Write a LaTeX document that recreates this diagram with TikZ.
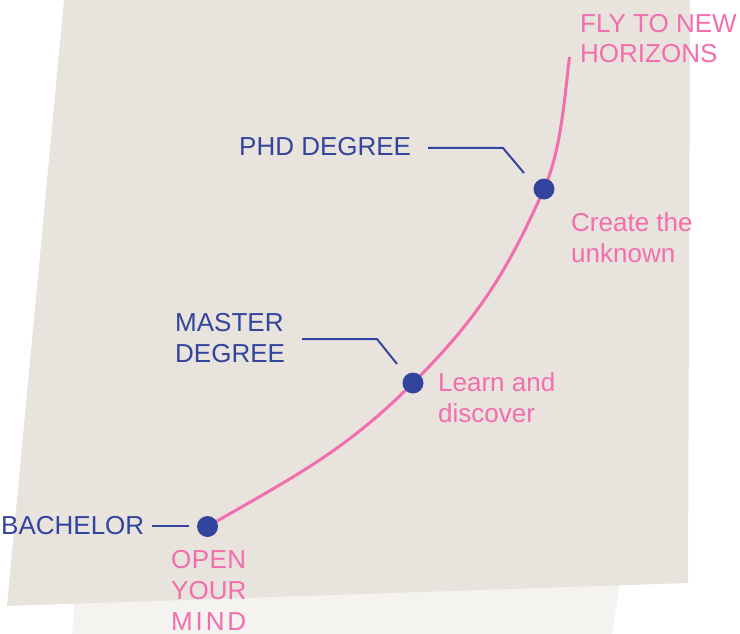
\documentclass[tikz,border=0pt]{standalone}
\usepackage{fontspec}
\setmainfont{Liberation Sans}
\usetikzlibrary{backgrounds}
\definecolor{bgc}{HTML}{E8E3DC}
\definecolor{bglight}{HTML}{F5F3EF}
\definecolor{pinkc}{HTML}{F26EAE}
\definecolor{bluec}{HTML}{33449E}
\begin{document}
\begin{tikzpicture}[x=1pt,y=-1pt,
  lbl/.style={font=\fontsize{26}{30.5}\selectfont, inner sep=0pt, anchor=base west, align=left},
  deg/.style={lbl, text=bluec},
  note/.style={lbl, text=pinkc},
  dot/.style={circle, fill=bluec, minimum size=21pt, inner sep=0pt},
  route/.style={pinkc, line width=3pt},
  lead/.style={bluec, line width=2pt}]
\useasboundingbox (0,0) rectangle (740,634);

% dots
\node[dot] (b) at (207.5,526.5) {};
\node[dot] (m) at (413,383) {};
\node[dot] (p) at (544,189) {};
\coordinate (top) at (569.5,57);

% labels (multi-line nodes: base = last line)
\node[deg] (bl) at (1,534) {BACHELOR};
\node[deg] (ml) at (175,362) {MASTER\\DEGREE};
\node[deg] (pl) at (239,155) {PHD DEGREE};
\node[note, font=\fontsize{26}{31}\selectfont] (bn) at (171,630) {\makebox[75pt][s]{O\hfill P\hfill E\hfill N}\\\makebox[75pt][s]{Y\hfill O\hfill U\hfill R}\\\makebox[75pt][s]{M\hfill I\hfill N\hfill D}};
\node[note] (mn) at (438,422) {Learn and\\discover};
\node[note] (pn) at (571,262) {Create the\\unknown};
\node[note] (tn) at (580,63) {FLY TO NEW\\HORIZONS};

% leader lines
\coordinate (b1) at (152,526);
\coordinate (b2) at (189,526);
\coordinate (m1) at (302,339);
\coordinate (m2) at (377,339);
\coordinate (m3) at (397,364);
\coordinate (p1) at (428,148);
\coordinate (p2) at (503,148);
\coordinate (p3) at (524,173);
\draw[lead] (b1) -- (b2);
\draw[lead] (m1) -- (m2) -- (m3);
\draw[lead] (p1) -- (p2) -- (p3);

\begin{pgfonlayer}{background}
  \fill[bglight] (72,634) -- (78,570) -- (622,570) -- (612,634) -- cycle;
  \fill[bgc] (64,0) -- (690,0) -- (688,583) -- (7,606) -- cycle;
  \draw[route] (b.center) to[out=30,in=225] (m.center)
               to[out=45,in=246] (p.center)
               to[out=66,in=263,looseness=0.8] (top);
\end{pgfonlayer}
\end{tikzpicture}
\end{document}
